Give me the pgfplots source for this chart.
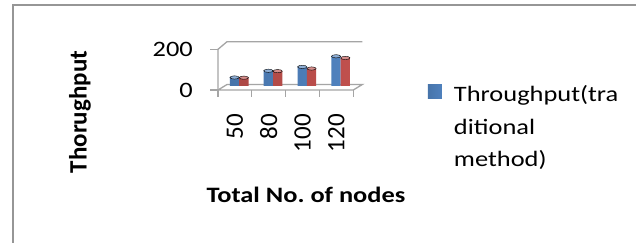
\documentclass[border=0pt]{standalone}
\usepackage{fontspec}
\setmainfont[FakeStretch=1.2]{Carlito}
\newfontfamily\rotfont{Carlito}
\usepackage{pgfplots}
\pgfplotsset{compat=1.18}
\definecolor{barblue}{RGB}{79,129,189}
\definecolor{barred}{RGB}{192,80,77}
\definecolor{axgray}{RGB}{165,165,165}
\definecolor{framegray}{RGB}{150,150,150}
\begin{document}
\begin{tikzpicture}[x=1pt,y=1pt]
\useasboundingbox (0,0) rectangle (636,242);
\clip (0,0) rectangle (636,242);
\fill[white] (0,0) rectangle (636,242);
\draw[framegray, line width=2pt] (13,-10) -- (13,237) -- (650,237);
\begin{axis}[
  at={(218pt,152pt)}, anchor=south west,
  scale only axis, width=135.3pt, height=40.7pt,
  xmin=-0.5, xmax=3.5, ymin=0, ymax=200,
  clip=false,
  axis line style={draw=none}, major tick style={draw=none},
  xtick={0,1,2,3}, xticklabels={50,80,100,120},
  ytick={0,200}, yticklabels={0,200},
  xticklabel style={font=\rotfont\fontsize{25}{28}\selectfont, rotate=90, anchor=east, inner sep=0pt},
  xticklabel shift=24pt,
  yticklabel style={font=\fontsize{22}{26}\selectfont, anchor=east, inner sep=0pt},
  yticklabel shift=25pt,
  bar width=9.3pt,
  xlabel={Total No.\ of nodes},
  xlabel style={at={(axis description cs:0.650,-2.752)}, anchor=base, font=\bfseries\fontsize{22}{26}\selectfont, inner sep=0pt},
  ylabel={Thorughput},
  ylabel style={at={(axis description cs:-1.02,-0.54)}, anchor=center, font=\rotfont\bfseries\fontsize{25}{28}\selectfont, inner sep=0pt},
  legend style={at={(axis description cs:1.552,0.16)}, anchor=north west, draw=none, fill=none, inner sep=0pt, outer sep=0pt, column sep=10pt, font=\fontsize{22}{32.5}\selectfont, cells={inner sep=0pt, align=left, anchor=north west}},
  legend image code/.code={\fill[barblue] (0pt,-5pt) rectangle (14pt,-19pt);},
]
\draw[axgray, line width=1.3pt] (axis cs:-0.5,0) -- (axis cs:3.5,0) -- ([shift={(9pt,5.5pt)}]axis cs:3.5,0) -- ([shift={(9pt,5.5pt)}]axis cs:-0.5,0) -- cycle;
\draw[axgray, line width=1.3pt] (axis cs:-0.5,0) -- (axis cs:-0.5,200) -- ([shift={(9pt,7.6pt)}]axis cs:-0.5,200) -- ([shift={(9pt,7.6pt)}]axis cs:3.5,200);
\draw[axgray, line width=1.3pt] (axis cs:-0.5,0) -- ++(-8pt,0pt) (axis cs:-0.5,200) -- ++(-8pt,0pt)
  (axis cs:-0.5,0) -- ++(0pt,-7pt) (axis cs:0.5,0) -- ++(0pt,-7pt) (axis cs:1.5,0) -- ++(0pt,-7pt) (axis cs:2.5,0) -- ++(0pt,-7pt) (axis cs:3.5,0) -- ++(0pt,-7pt);
\addplot[ybar, bar shift=-4.65pt, draw=none, left color=barblue!90!black, middle color=barblue!75!white, right color=barblue, xshift=4.3pt, yshift=4.2pt] coordinates {(0,41) (1,74) (2,93) (3,145)};
\addlegendentry{Throughput(tra\\ditional\\method)}
\addplot[forget plot, ybar, bar shift=4.65pt, draw=none, left color=barred!90!black, middle color=barred!75!white, right color=barred, xshift=4.3pt, yshift=4.2pt] coordinates {(0,40) (1,72) (2,85) (3,137)};
\addplot[forget plot, only marks, mark=*, mark size=4.65pt, mark options={yscale=0.35, draw=none, fill=barblue!65!white}, xshift=-0.35pt, yshift=4.2pt] coordinates {(0,41) (1,74) (2,93) (3,145)};
\addplot[forget plot, only marks, mark=*, mark size=4.65pt, mark options={yscale=0.35, draw=none, fill=barred!65!white}, xshift=8.95pt, yshift=4.2pt] coordinates {(0,40) (1,72) (2,85) (3,137)};
\end{axis}
\end{tikzpicture}
\end{document}
